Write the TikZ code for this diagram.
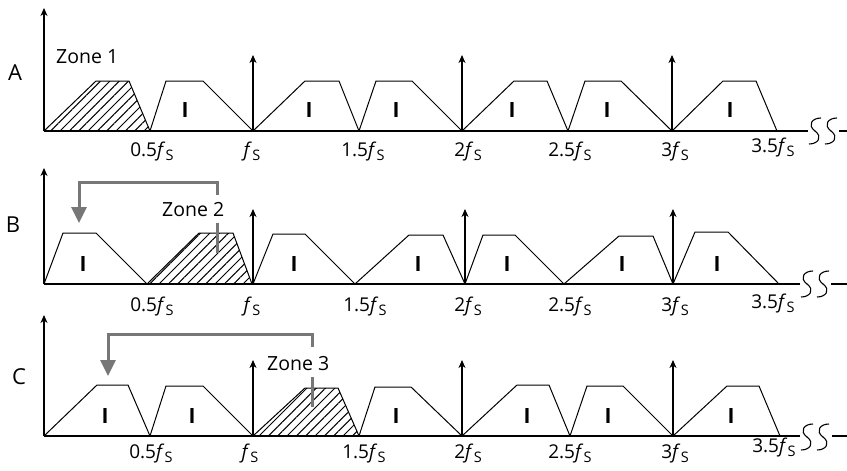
\documentclass[tikz,border=0pt]{standalone}
\usepackage{fontspec}
\setmainfont{Open Sans}
\usetikzlibrary{arrows.meta,patterns.meta}
\definecolor{brk}{HTML}{777777}
\newcommand{\fsub}{\textit{f}\kern0.3pt\raisebox{-0.4ex}{\fontsize{14.5}{14.5}\selectfont S}}
\newcommand{\squigS}[2]{\draw[squig] (#1+6,#2-13) .. controls (#1-3,#2-13) and (#1-8,#2-6) .. (#1,#2) .. controls (#1+8,#2+6) and (#1+3,#2+13) .. (#1-6,#2+13);}
\begin{document}
\begin{tikzpicture}[x=1pt,y=-1pt,
  band/.style={line width=1pt, line join=miter},
  hatch/.style={band, pattern={Lines[angle=45,distance=6.6pt,line width=1pt]}},
  axisline/.style={line width=1.4pt},
  fsarrow/.style={line width=1.1pt,-{Stealth[length=8pt,width=7pt,inset=2.5pt]}},
  ilabel/.style={font=\fontsize{21}{21}\selectfont\bfseries, inner sep=0pt},
  ticklab/.style={font=\fontsize{19}{19}\selectfont, anchor=base, inner sep=0pt},
  panel/.style={font=\fontsize{22}{22}\selectfont, anchor=base, inner sep=0pt},
  zonelab/.style={font=\fontsize{19.5}{19.5}\selectfont, anchor=base west, inner sep=0pt},
  bracket/.style={draw=brk, line width=3pt, line join=miter},
  bracketarrow/.style={bracket, -{Triangle[length=16pt,width=15pt]}},
  squig/.style={line width=1.1pt},
]
\useasboundingbox (0,0) rectangle (847,471);

% ================= Panel A =================
\node[panel] (pA) at (15,80) {A};
\draw[hatch] (44,131) -- (96,81) -- (129,81) -- (150,131);
\draw[band] (150,131) -- (166,81) -- (203,81) -- (253,131);
\draw[band] (253,131) -- (305,81) -- (339,81) -- (359,131);
\draw[band] (359,131) -- (376,81) -- (412,81) -- (462,131);
\draw[band] (462,131) -- (514,81) -- (547,81) -- (568,131);
\draw[band] (568,131) -- (585,81) -- (621,81) -- (672,131);
\draw[band] (672,131) -- (723,81) -- (756,81) -- (777,131);
\draw[axisline] (44,131) -- (808,131);
\draw[axisline] (839,131) -- (847,131);
\draw[fsarrow] (44,131) -- (44,8);
\draw[fsarrow] (253,131) -- (253,55);
\draw[fsarrow] (462,131) -- (462,55);
\draw[fsarrow] (672,131) -- (672,55);
\squigS{815}{131}
\squigS{831}{131}
\node[zonelab] (zA) at (56,63) {Zone 1};
\foreach \x [count=\i] in {185,309,396,512,607,730}
  \node[ilabel] (IA\i) at (\x,110.5) {I};
\node[ticklab] (tA1) at (152,156) {0.5\fsub};
\node[ticklab] (tA2) at (252,156) {\fsub};
\node[ticklab] (tA3) at (363,156) {1.5\fsub};
\node[ticklab] (tA4) at (468,156) {2\fsub};
\node[ticklab] (tA5) at (570,156) {2.5\fsub};
\node[ticklab] (tA6) at (675,156) {3\fsub};
\node[ticklab] (tA7) at (773,152) {3.5\fsub};

% ================= Panel B =================
\node[panel] (pB) at (13,232) {B};
\draw[band] (44,284) -- (63,233) -- (96,233) -- (147,284);
\draw[hatch] (147,284) -- (199,233) -- (233,233) -- (252,284);
\draw[band] (253,284) -- (273,234) -- (305,234) -- (355,284);
\draw[band] (355,284) -- (409,235) -- (443,235) -- (465,284);
\draw[band] (465,284) -- (483,235) -- (515,235) -- (564,284);
\draw[band] (564,284) -- (619,236) -- (653,236) -- (673,284);
\draw[band] (673,284) -- (695,232) -- (728,232) -- (779,284);
\draw[axisline] (44,284) -- (800,284);
\draw[axisline] (831,284) -- (847,284);
\draw[fsarrow] (44,284) -- (44,168);
\draw[fsarrow] (253,284) -- (253,209);
\draw[fsarrow] (465,284) -- (465,209);
\draw[fsarrow] (673,284) -- (673,209);
\squigS{807}{284}
\squigS{823}{284}
\foreach \x [count=\i] in {83,294,418,507,622,717}
  \node[ilabel] (IB\i) at (\x,264.5) {I};
\node[zonelab] (zB) at (162,216) {Zone 2};
\coordinate (zBs) at (217,195);
\coordinate (zBc1) at (217,182);
\coordinate (zBc2) at (79,182);
\coordinate (zBe) at (79,223);
\draw[bracketarrow] (zBs) -- (zBc1) -- (zBc2) -- (zBe);
\coordinate (zBt1) at (217,223);
\coordinate (zBt2) at (217,253);
\draw[bracket] (zBt1) -- (zBt2);
\node[ticklab] (tB1) at (152,311) {0.5\fsub};
\node[ticklab] (tB2) at (252,311) {\fsub};
\node[ticklab] (tB3) at (365,311) {1.5\fsub};
\node[ticklab] (tB4) at (468,311) {2\fsub};
\node[ticklab] (tB5) at (570,311) {2.5\fsub};
\node[ticklab] (tB6) at (675,311) {3\fsub};
\node[ticklab] (tB7) at (773,308) {3.5\fsub};

% ================= Panel C =================
\node[panel] (pC) at (19,384) {C};
\draw[band] (44,436) -- (97,385) -- (128,385) -- (150,436);
\draw[band] (150,436) -- (166,386) -- (203,386) -- (253,436);
\draw[hatch] (253,436) -- (305,388) -- (338,388) -- (359,436);
\draw[band] (359,436) -- (375,387) -- (411,387) -- (462,436);
\draw[band] (462,436) -- (517,385) -- (549,385) -- (570,436);
\draw[band] (570,436) -- (587,386) -- (623,386) -- (673,436);
\draw[band] (673,436) -- (727,386) -- (759,386) -- (780,436);
\draw[axisline] (44,436) -- (800,436);
\draw[axisline] (832,436) -- (847,436);
\draw[fsarrow] (44,436) -- (44,315);
\draw[fsarrow] (253,436) -- (253,360);
\draw[fsarrow] (462,436) -- (462,360);
\draw[fsarrow] (673,436) -- (673,360);
\squigS{807}{437}
\squigS{823}{437}
\foreach \x [count=\i] in {105,192,396,527,608,731}
  \node[ilabel] (IC\i) at (\x,416.5) {I};
\node[zonelab] (zC) at (267,370) {Zone 3};
\coordinate (zCs) at (312,347);
\coordinate (zCc1) at (312,334);
\coordinate (zCc2) at (108,334);
\coordinate (zCe) at (108,376);
\draw[bracketarrow] (zCs) -- (zCc1) -- (zCc2) -- (zCe);
\coordinate (zCt1) at (312,377);
\coordinate (zCt2) at (312,407);
\draw[bracket] (zCt1) -- (zCt2);
\node[ticklab] (tC1) at (151,458) {0.5\fsub};
\node[ticklab] (tC2) at (250,458) {\fsub};
\node[ticklab] (tC3) at (364,458) {1.5\fsub};
\node[ticklab] (tC4) at (468,458) {2\fsub};
\node[ticklab] (tC5) at (570,458) {2.5\fsub};
\node[ticklab] (tC6) at (675,458) {3\fsub};
\node[ticklab] (tC7) at (774,452) {3.5\fsub};
\end{tikzpicture}
\end{document}
